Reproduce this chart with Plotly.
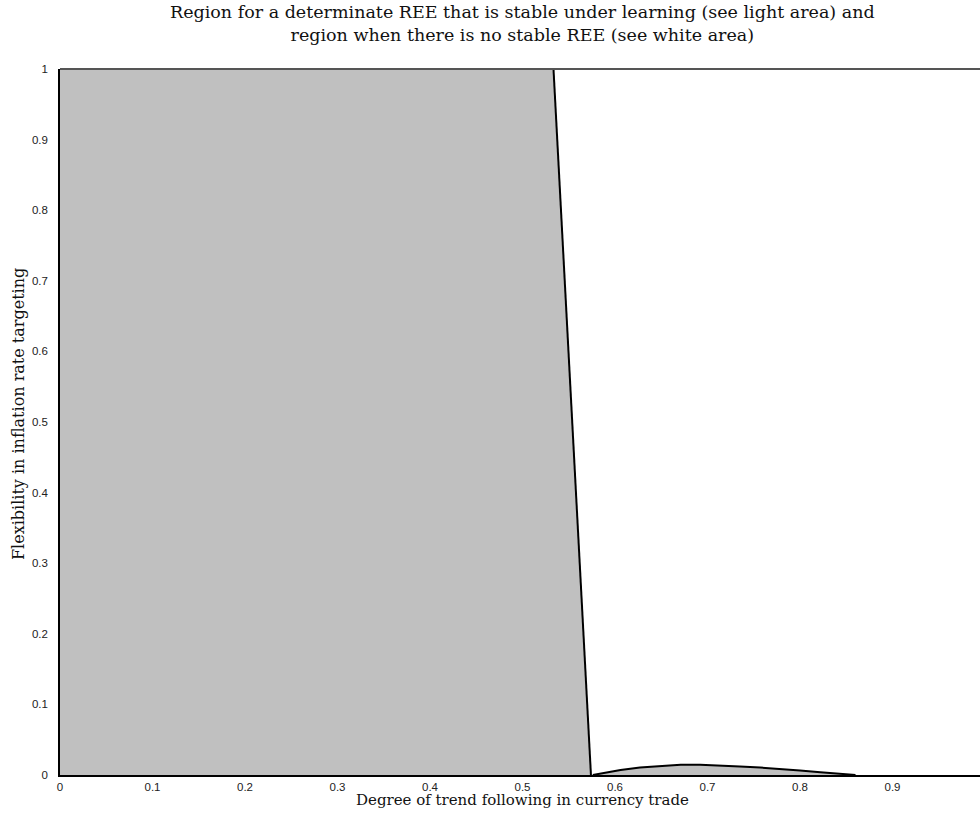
import plotly.graph_objects as go

# Boundary of the stable determinate region (degree of trend following vs. flexibility)
flex_levels = [1.0, 0.0]
trend_boundary = [0.5335, 0.574]

# Small stable pocket near zero flexibility
pocket_trend = [0.576, 0.584, 0.606, 0.627, 0.649, 0.671, 0.692, 0.714, 0.735,
                0.757, 0.779, 0.800, 0.822, 0.843, 0.860]
pocket_flex = [0.0, 0.002, 0.0071, 0.0106, 0.013, 0.0144, 0.0144, 0.0137, 0.012,
               0.0106, 0.0088, 0.0064, 0.004, 0.0017, 0.0]

x_ticks = [0, 0.1, 0.2, 0.3, 0.4, 0.5, 0.6, 0.7, 0.8, 0.9]
x_tick_labels = ["0", "0.1", "0.2", "0.3", "0.4", "0.5", "0.6", "0.7", "0.8", "0.9"]
y_ticks = [0, 0.1, 0.2, 0.3, 0.4, 0.5, 0.6, 0.7, 0.8, 0.9, 1.0]
y_tick_labels = ["0", "0.1", "0.2", "0.3", "0.4", "0.5", "0.6", "0.7", "0.8", "0.9", "1"]

FILL = "#c0c0c0"
SERIF = "DejaVu Serif, serif"
SANS = "Liberation Sans, Arial, sans-serif"

fig = go.Figure()

# Main shaded region: left of the boundary line
region_x = [0.0] + trend_boundary + [0.0]
region_y = [flex_levels[0]] + flex_levels + [flex_levels[-1]]
fig.add_trace(go.Scatter(x=region_x, y=region_y, fill="toself", fillcolor=FILL,
                         mode="lines", line=dict(width=0), hoverinfo="skip",
                         showlegend=False))
fig.add_trace(go.Scatter(x=trend_boundary, y=flex_levels, mode="lines",
                         line=dict(color="black", width=2), showlegend=False))

# Small pocket
fig.add_trace(go.Scatter(x=pocket_trend, y=pocket_flex, fill="toself", fillcolor=FILL,
                         mode="lines", line=dict(color="black", width=2),
                         showlegend=False))

W, H = 980, 819
L, T, B = 60, 69, 44

fig.update_layout(
    width=W, height=H,
    margin=dict(l=L, r=0, t=T, b=B),
    paper_bgcolor="white", plot_bgcolor="white",
    showlegend=False,
    xaxis=dict(
        range=[0, 920 / 925], tickvals=x_ticks, ticktext=x_tick_labels,
        showgrid=False, zeroline=False, ticks="",
        showline=True, linecolor="black", linewidth=2,
        tickfont=dict(family=SANS, size=11.5, color="#222"),
    ),
    yaxis=dict(
        range=[0, 1], tickvals=y_ticks, ticktext=y_tick_labels,
        showgrid=False, zeroline=False, ticks="",
        showline=True, linecolor="black", linewidth=1.5,
        tickfont=dict(family=SANS, size=11.5, color="#222"),
        ticklabelstandoff=8,
    ),
    shapes=[
        dict(type="line", xref="paper", yref="paper", x0=0, x1=1, y0=1, y1=1,
             line=dict(color="#555", width=2)),
    ],
    annotations=[
        dict(text="Region for a determinate REE that is stable under learning (see light area) and<br>"
                  "region when there is no stable REE (see white area)",
             xref="x", yref="paper", x=0.5, y=1, yanchor="bottom", yshift=22,
             showarrow=False, align="center",
             font=dict(family=SERIF, size=17.5, color="#111")),
        dict(text="Degree of trend following in currency trade",
             xref="x", yref="paper", x=0.5, y=0, yshift=-25, yanchor="middle",
             showarrow=False, font=dict(family=SERIF, size=15, color="#111")),
        dict(text="Flexibility in inflation rate targeting",
             xref="paper", yref="paper", x=0, xshift=-42, y=0.5, yshift=8, textangle=-90,
             xanchor="center", yanchor="middle",
             showarrow=False, font=dict(family=SERIF, size=16, color="#111")),
    ],
)

fig.write_html("out.html")
